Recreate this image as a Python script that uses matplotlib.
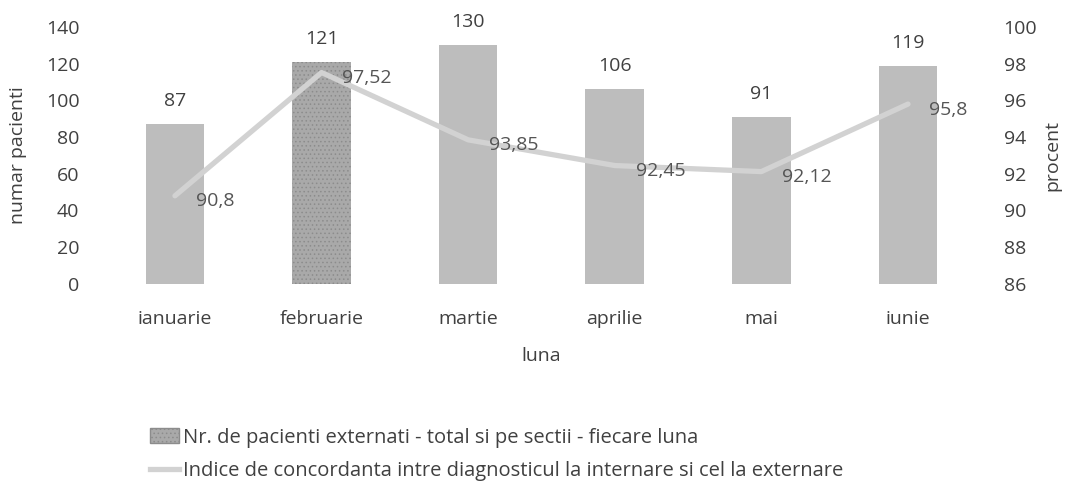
import matplotlib
matplotlib.use("Agg")
import matplotlib.pyplot as plt
from matplotlib.lines import Line2D
from matplotlib.patches import Patch

months = ["ianuarie", "februarie", "martie", "aprilie", "mai", "iunie"]
patients = [87, 121, 130, 106, 91, 119]
concordance = [90.8, 97.52, 93.85, 92.45, 92.12, 95.8]
concordance_labels = ["90,8", "97,52", "93,85", "92,45", "92,12", "95,8"]
left_ticks = [0, 20, 40, 60, 80, 100, 120, 140]
right_ticks = [86, 88, 90, 92, 94, 96, 98, 100]

plt.rcParams['font.family'] = ['Open Sans', 'DejaVu Sans']
plt.rcParams['hatch.linewidth'] = 0.6
FS = 14
TXT = "#404040"

fig = plt.figure(figsize=(10.78, 4.82), dpi=100)
ax = fig.add_axes([0.0943, 0.411, 0.816, 0.533])
x = list(range(len(months)))
bar_color = "#bdbdbd"
line_color = "#d2d2d2"
bars = ax.bar(x, patients, width=0.40, color=bar_color, zorder=2, linewidth=0)
bars[1].set_facecolor("#a9a9a9")
bars[1].set_hatch("....")
bars[1].set_edgecolor("#8c8c8c")
ax.set_ylim(0, 140)
ax.set_yticks(left_ticks)
ax.set_xlim(-0.5, len(months) - 0.5)
ax.set_xticks(x)
ax.set_xticklabels(months)
for s in ax.spines.values():
    s.set_visible(False)
ax.tick_params(length=0, labelsize=FS, colors=TXT, pad=16)
ax.tick_params(axis='x', pad=19)
for xi, v in zip(x, patients):
    ax.annotate(str(v), (xi, v), xytext=(0, 10), textcoords="offset points",
                ha="center", va="bottom", fontsize=FS, color=TXT)
ax.set_ylabel("numar pacienti", fontsize=FS, color=TXT)
ax.yaxis.set_label_coords(-0.085, 0.5)
ax.set_xlabel("luna", fontsize=FS, color=TXT)
ax.xaxis.set_label_coords(0.5, -0.247)

ax2 = ax.twinx()
ax2.set_ylim(86, 100)
ax2.set_yticks(right_ticks)
for s in ax2.spines.values():
    s.set_visible(False)
ax2.tick_params(length=0, labelsize=FS, colors=TXT, pad=16)
ax2.plot(x, concordance, color=line_color, lw=3.8, zorder=3, solid_capstyle="round")
for xi, v, t in zip(x, concordance, concordance_labels):
    ax2.annotate(t, (xi, v), xytext=(15, -4), textcoords="offset points",
                 ha="left", va="center", fontsize=FS, color="#555555")
ax2.set_ylabel("procent", fontsize=FS, color=TXT)
ax2.yaxis.set_label_coords(1.070, 0.5)

handles = [Patch(facecolor="#a9a9a9", edgecolor="#8c8c8c", hatch="...."),
           Line2D([0], [0], color=line_color, lw=3.8)]
labels = ["Nr. de pacienti externati - total si pe sectii - fiecare luna",
          "Indice de concordanta intre diagnosticul la internare si cel la externare"]
fig.legend(handles, labels, loc="upper left", bbox_to_anchor=(0.139, 0.113),
           frameon=False, fontsize=14.5, labelcolor=TXT,
           handlelength=1.45, handleheight=0.7, handletextpad=0.2,
           labelspacing=0.68, borderpad=0, borderaxespad=0)

fig.savefig("out.png", dpi=100)
